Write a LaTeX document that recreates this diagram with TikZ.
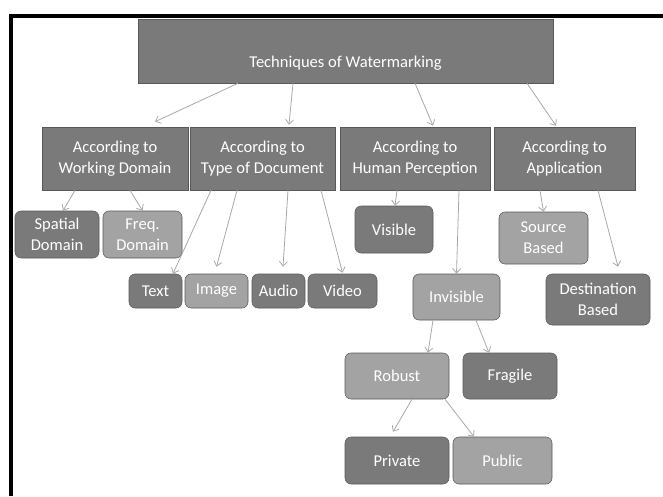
\documentclass[tikz,border=0pt]{standalone}
\usepackage{fontspec}
\setmainfont{Carlito}
\usepackage{tikz}
\usetikzlibrary{arrows.meta}
\definecolor{wmdark}{RGB}{122,122,122}
\definecolor{wmlight}{RGB}{163,163,163}
\definecolor{wmedge}{RGB}{88,88,88}
\definecolor{wmarrow}{RGB}{168,168,168}

\begin{document}
\begin{tikzpicture}[
  x=0.75pt,y=-0.75pt,
  font=\fontsize{12.4}{15.5}\selectfont,
  head/.style={draw=wmedge,fill=wmdark,text=white,inner sep=0pt,
               text height=36pt,text depth=12pt},
  branch/.style={draw=wmedge,fill=wmdark,text=white,align=center,
                 minimum height=63*0.75pt,inner sep=1pt},
  leaf/.style={draw=wmedge,fill=wmdark,text=white,align=center,
               rounded corners=4.5pt,inner sep=1pt},
  pale/.style={fill=wmlight},
  link/.style={->,draw=wmarrow,line width=0.6pt},
  >={Straight Barb[length=3.5pt,width=6pt]}
]
  \useasboundingbox (0,0) rectangle (663,496);
  \draw[line width=3pt] (10.5,496) -- (10.5,16) -- (663,16);

  % root and the four criteria
  \node[head,minimum width=415*0.75pt] (root) at (345.5,51) {Techniques of Watermarking};
  \node[branch,minimum width=146*0.75pt] (wd) at (115,158.5) {According to\\Working Domain};
  \node[branch,minimum width=145*0.75pt] (td) at (262.5,158.5) {According to\\Type of Document};
  \node[branch,minimum width=150*0.75pt] (hp) at (415,158.5) {According to\\Human Perception};
  \node[branch,minimum width=141*0.75pt] (ap) at (564.5,158.5) {According to\\Application};

  % leaves
  \node[leaf,minimum width=84*0.75pt,minimum height=47*0.75pt] (sd) at (57,234.5) {Spatial\\Domain};
  \node[leaf,pale,minimum width=79*0.75pt,minimum height=47*0.75pt] (fd) at (142.5,234.5) {Freq.\\Domain};
  \node[leaf,minimum width=53*0.75pt,minimum height=34*0.75pt] (text) at (155.5,291) {Text};
  \node[leaf,pale,minimum width=63*0.75pt,minimum height=34*0.75pt] (image) at (216.5,291) {Image};
  \node[leaf,minimum width=53*0.75pt,minimum height=34*0.75pt] (audio) at (278.5,291) {Audio};
  \node[leaf,minimum width=69*0.75pt,minimum height=34*0.75pt] (video) at (342.5,291) {Video};
  \node[leaf,minimum width=78*0.75pt,minimum height=47*0.75pt] (vis) at (394,229.5) {Visible};
  \node[leaf,pale,minimum width=87*0.75pt,minimum height=46*0.75pt] (invis) at (456.5,297) {Invisible};
  \node[leaf,pale,minimum width=89*0.75pt,minimum height=52*0.75pt] (src) at (543.5,238) {Source\\Based};
  \node[leaf,minimum width=104*0.75pt,minimum height=51*0.75pt] (dst) at (598,299.5) {Destination\\Based};
  \node[leaf,pale,minimum width=104*0.75pt,minimum height=46*0.75pt] (rob) at (397,376) {Robust};
  \node[leaf,minimum width=94*0.75pt,minimum height=46*0.75pt] (frag) at (510,376) {Fragile};
  \node[leaf,minimum width=104*0.75pt,minimum height=47*0.75pt] (priv) at (397,460.5) {Private};
  \node[leaf,pale,minimum width=99*0.75pt,minimum height=47*0.75pt] (pub) at (502.5,460.5) {Public};

  % arrows
  \draw[link] ([shift={(-107.5,0)}]root.south) -- ([shift={(40,-5)}]wd.north);
  \draw[link] ([shift={(-52.5,0)}]root.south) -- ([shift={(26.5,-2)}]td.north);
  \draw[link] ([shift={(69.5,0)}]root.south) -- ([shift={(18,-1)}]hp.north);
  \draw[link] ([shift={(181.5,0)}]root.south) -- ([shift={(-8.5,-1)}]ap.north);

  \draw[link] ([shift={(-40,0)}]wd.south) -- ([shift={(6,0)}]sd.north);
  \draw[link] ([shift={(15,0)}]wd.south) -- (fd.north);
  \draw[link] ([shift={(-51.5,0)}]td.south) -- ([shift={(17.5,0)}]text.north);
  \draw[link] ([shift={(-25.5,0)}]td.south) -- ([shift={(0,-7)}]image.north);
  \draw[link] ([shift={(25.5,0)}]td.south) -- ([shift={(4.5,-7)}]audio.north);
  \draw[link] ([shift={(58.5,0)}]td.south) -- ([shift={(0,-1)}]video.north);
  \draw[link] ([shift={(-18,0)}]hp.south) -- ([shift={(1,0)}]vis.north);
  \draw[link] ([shift={(44,0)}]hp.south) -- (invis.north);
  \draw[link] ([shift={(-24.5,0)}]ap.south) -- (src.north);
  \draw[link] ([shift={(33.5,0)}]ap.south) -- ([shift={(20,-7)}]dst.north);

  \draw[link] ([shift={(-23.5,0)}]invis.south) -- ([shift={(31,0)}]rob.north);
  \draw[link] ([shift={(19.5,0)}]invis.south) -- ([shift={(-21,0)}]frag.north);
  \draw[link] ([shift={(15,0)}]rob.south) -- ([shift={(-4,-5)}]priv.north);
  \draw[link] ([shift={(48,0)}]rob.south) -- ([shift={(-28.5,0)}]pub.north);
\end{tikzpicture}
\end{document}
